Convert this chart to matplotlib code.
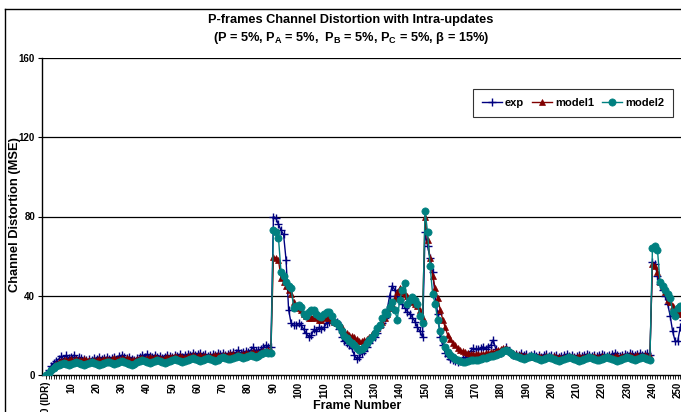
import matplotlib
matplotlib.use("Agg")
import matplotlib.pyplot as plt
from matplotlib.lines import Line2D

plt.rcParams['font.family'] = ['Liberation Sans', 'DejaVu Sans']
plt.rcParams['font.weight'] = 'bold'
plt.rcParams['mathtext.fontset'] = 'custom'
plt.rcParams['mathtext.rm'] = 'Liberation Sans:bold'
plt.rcParams['mathtext.it'] = 'Liberation Sans:bold'
plt.rcParams['mathtext.bf'] = 'Liberation Sans:bold'

title1 = "P-frames Channel Distortion with Intra-updates"
title2 = r"(P = 5%, P$_\mathrm{A}$ = 5%,  P$_\mathrm{B}$ = 5%, P$_\mathrm{C}$ = 5%, β = 15%)"
x_label = "Frame Number"
y_label = "Channel Distortion (MSE)"
series_names = ["exp", "model1", "model2"]
y_ticks = [0, 40, 80, 120, 160]

exp = [
    0, 2.5, 4.5, 6, 7, 8, 9.5, 8, 10, 8.5,
    9, 10, 8, 9, 8.5, 8, 7.5, 8, 7.5, 8.5,
    8, 9, 8, 8.5, 9, 8, 8.5, 9, 8, 9.5,
    10, 9, 8.5, 9, 8, 7.5, 8.5, 9, 10, 9,
    10.5, 9.5, 9, 10, 9, 9.5, 8.5, 9, 10, 9.5,
    9, 10, 9.5, 10.5, 9, 10, 10.5, 10, 11, 10,
    10.5, 11, 10, 10.5, 9.5, 10, 10.5, 10, 11, 10.5,
    11, 10, 10.5, 11, 11.5, 11, 12.5, 11, 11.5, 12,
    11.5, 12.5, 14, 12, 12.5, 13, 14, 15, 14, 14,
    80, 79, 76, 73, 71, 58, 33, 26, 25, 25,
    26, 25, 23, 21, 19, 20, 23, 22, 24, 23,
    24, 26, 27, 28, 27, 27, 23, 19, 17, 16,
    15, 13.5, 10, 8, 9, 11, 12, 14, 16, 18,
    19, 21, 24, 26, 29, 33, 40, 45, 43, 40,
    38, 36, 34, 32, 31, 29, 27, 24, 22, 19,
    72, 65, 59, 52, 40, 31, 19, 15, 11, 9.5,
    8, 7.5, 7, 6.5, 7, 8, 9, 10, 12, 13.5,
    13, 13, 13.5, 14.3, 13, 14.3, 15, 17.7, 13, 11,
    11, 12, 14.3, 12, 11, 10, 10.5, 10, 11, 10,
    10.5, 9.5, 10, 10.5, 9.5, 10, 9, 10, 10.5, 9.5,
    10, 9.5, 10, 9, 9.5, 10, 10.5, 9.5, 10, 9,
    9.5, 10, 9.5, 10, 10.5, 10, 9.5, 10, 9.5, 10,
    10.5, 10, 9.5, 10, 10.5, 11, 10, 9.5, 10, 10.5,
    10, 11, 10.5, 10, 10.5, 11, 10, 10.5, 11, 10,
    57, 56, 50, 46, 43, 40, 36, 30, 22, 17,
    17, 24, 28, 19, 18,
]

model1 = [
    0, 1.5, 3, 4.5, 5.5, 6.5, 7, 7.5, 7.5, 7.5,
    8, 7.5, 8, 7.5, 7.5, 8, 7.5, 7.5, 7, 7.5,
    7.5, 8, 7.5, 8, 8, 7.5, 8, 8.5, 8, 8,
    8.5, 8, 8.5, 8, 7.5, 7.5, 8, 8.5, 8.5, 8,
    8.5, 9, 8.5, 9, 8.5, 8.5, 8, 8.5, 9, 9,
    9, 9.5, 9, 9.5, 9, 9, 9.5, 9.5, 10, 9.5,
    9.5, 10, 9.5, 9.5, 9, 9.5, 9.5, 10, 10, 9.5,
    10, 10, 10, 10.5, 10.5, 10, 10.5, 10, 10.5, 11,
    10.5, 11, 11.5, 11, 11, 11.5, 12, 12, 12.5, 12,
    59.5, 59, 58, 49, 47, 45, 43, 41, 37, 35,
    34, 33, 31, 30, 29, 29, 30, 29, 28, 28,
    29, 30, 29, 28, 27, 26, 25, 24, 22, 21,
    20, 19.5, 19, 18, 17, 17, 17.5, 18, 19, 20.5,
    22, 23.5, 25, 27, 29, 31, 34, 36, 38.7, 42,
    43.8, 42, 41, 40, 39, 37, 36, 35, 33, 29,
    79.5, 68, 59, 50, 44, 39, 33, 28, 24, 20,
    18, 16, 15, 13.5, 12.5, 12, 11.5, 11, 10.8, 10.5,
    10.4, 10.4, 10.6, 10.8, 11, 11.3, 11.5, 11.8, 12, 12.5,
    13, 13.5, 13.5, 12.5, 11.5, 11, 10.5, 10, 10, 9.5,
    9.5, 9, 9.5, 9, 9, 9.5, 9, 9, 9.5, 9,
    9, 9.5, 9, 9, 8.5, 9, 9, 9.5, 9, 9,
    9, 9.5, 9, 9, 9.5, 9, 9, 9.5, 9, 9,
    9.5, 9, 9, 9.5, 9, 9.5, 9.5, 9, 9.5, 9.5,
    9.5, 10, 9.5, 9.5, 10, 9.5, 9.5, 10, 9.5, 9.5,
    56, 55, 52, 47, 45, 42, 38, 37, 35, 33,
    32, 31, 31, 29.5, 29,
]

model2 = [
    0, 1, 2.5, 3.5, 4.5, 5, 5.5, 6, 5.5, 5,
    5.5, 6, 6.5, 6, 5.5, 5, 5.5, 6, 6.5, 6,
    5.5, 5, 5.5, 6, 6.5, 6.5, 6, 5.5, 6, 6.5,
    7, 6.5, 6, 5.5, 5, 5.5, 6.5, 7, 7.5, 7,
    6.5, 6, 6.5, 7, 7.5, 7, 6.5, 6, 6.5, 7,
    7.5, 8, 7.5, 7, 6.5, 7, 7.5, 8, 8.5, 8,
    7.5, 7, 7.5, 8, 8.5, 8, 7.5, 7, 7.5, 8.5,
    9, 8.5, 8, 8, 8.5, 9, 9.5, 9, 8.5, 9,
    9.5, 10, 9.5, 9, 9.5, 10.5, 11, 11.5, 11, 11,
    73, 72, 69, 52, 50, 47, 45, 44, 34, 35,
    35.5, 34.5, 31, 30, 32, 33, 33, 31, 30, 29.5,
    31, 32, 32, 30, 27, 26, 24.5, 22, 19.5, 18.5,
    17, 16, 15, 13.5, 12.6, 13, 14.3, 16, 17.7, 19,
    21, 23.6, 25, 28.6, 32, 31, 34.5, 37, 33, 28,
    38, 43, 46.5, 36, 38, 39.5, 38, 36, 30, 26,
    83, 72, 55, 41, 36, 28, 22, 18, 14, 11.5,
    10, 9, 8, 7.5, 7, 6.7, 6.8, 7, 7.5, 7.8,
    7.6, 7.8, 8.2, 8.4, 8.4, 9, 9.5, 9.8, 10, 10.5,
    11, 12, 12.6, 12, 11, 10, 9.5, 9, 8.5, 8,
    8.5, 9, 9.5, 9, 8.5, 8, 7.5, 8, 8.5, 9,
    8.5, 8, 7.5, 7, 7.5, 8, 8.5, 9, 8.5, 8,
    7.5, 7, 7.5, 8, 8.5, 9, 8.5, 8, 7.5, 7.5,
    8, 8.5, 9, 8.5, 8, 7.5, 7, 7.5, 8, 8.5,
    9, 8.5, 8, 7.5, 8, 8.5, 9, 8.5, 8, 7.5,
    64, 65, 63, 47, 45, 43, 41, 39, 32, 30,
    34, 35, 35, 27, 30,
]

frames = list(range(len(exp)))
tick_labels = ["0 (IDR)" if f == 0 else (str(f) if f % 10 == 0 else "") for f in frames]

W, H = 681, 412
fig = plt.figure(figsize=(W / 100, H / 100), dpi=100)
fig.patch.set_facecolor('white')

ax = fig.add_axes([42 / W, (H - 375) / H, 1 - 42 / W + 0.01, (375 - 58) / H])
ax.set_facecolor('white')

ax.plot(frames, exp, color='#000080', lw=1, marker='+', ms=6, mew=1, zorder=3, label=series_names[0])
ax.plot(frames, model1, color='#800000', lw=1, marker='^', ms=4.5, mew=0.5, zorder=4, label=series_names[1])
ax.plot(frames, model2, color='#008080', lw=1, marker='o', ms=5.2, mew=0.5, zorder=5, label=series_names[2])

ax.set_xlim(-1.6, 253.4)
ax.set_ylim(0, 160)
ax.set_yticks(y_ticks)
ax.set_yticklabels([str(v) for v in y_ticks], fontsize=7, fontweight='bold')
ax.set_xticks(frames)
ax.set_xticklabels(tick_labels, rotation=90, fontsize=7, fontweight='bold')
ax.tick_params(axis='x', length=3, width=0.6, direction='out', pad=2)
ax.tick_params(axis='y', length=3, width=0.8, direction='out', pad=2)

for v in y_ticks[1:]:
    ax.axhline(v, color='black', lw=0.9, zorder=1)

for s in ['top', 'right']:
    ax.spines[s].set_visible(False)
ax.spines['left'].set_linewidth(1)
ax.spines['bottom'].set_linewidth(1)

fig.text(351 / W, 1 - 20 / H, title1, ha='center', va='center', fontsize=9.2, fontweight='bold')
fig.text(351 / W, 1 - 38 / H, title2, ha='center', va='center', fontsize=9.2, fontweight='bold')
fig.text(15 / W, 1 - 215 / H, y_label, ha='center', va='center', rotation=90, fontsize=9.3, fontweight='bold')
fig.text(357 / W, 1 - 400 / H, x_label, ha='center', va='top', fontsize=9, fontweight='bold')

# chart border (left and top visible)
fig.add_artist(Line2D([4.5 / W, 4.5 / W], [0, 1 - 9 / H], transform=fig.transFigure, color='black', lw=1))
fig.add_artist(Line2D([4.5 / W, 1], [1 - 9 / H, 1 - 9 / H], transform=fig.transFigure, color='black', lw=1))

leg = ax.legend(loc='center', bbox_to_anchor=(573 / W, 1 - 103 / H), bbox_transform=fig.transFigure,
                ncol=3, fontsize=8, frameon=True, fancybox=False, edgecolor='black',
                handlelength=1.8, columnspacing=0.7, handletextpad=0.3, borderpad=0.8)
leg.get_frame().set_linewidth(0.8)
for t in leg.get_texts():
    t.set_fontweight('bold')

fig.savefig("out.png", dpi=100)
